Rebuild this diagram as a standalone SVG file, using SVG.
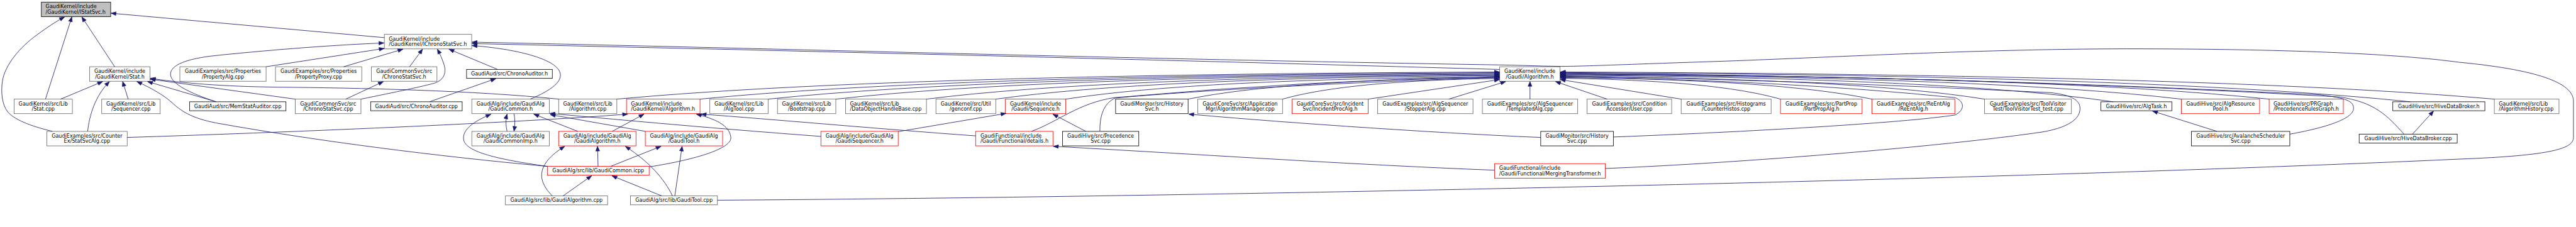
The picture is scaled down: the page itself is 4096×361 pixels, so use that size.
<svg xmlns="http://www.w3.org/2000/svg" width="4096" height="361" viewBox="0 0 4096 361">
<style>
.n rect{fill:#fff;stroke:#666;stroke-width:1.33}
.n.k rect{stroke:#000}
.n.r rect{stroke:#f00}
.n.root rect{fill:#bfbfbf;stroke:#000}
.n text{font-family:"DejaVu Sans","Liberation Sans",sans-serif;font-size:12.83px;fill:#000;text-anchor:middle}
.n.l text{text-anchor:start}
#edges path{fill:none;stroke:#191970;stroke-width:1.4;marker-end:url(#ah)}
</style>
<defs>
<marker id="ah" markerUnits="userSpaceOnUse" orient="auto" markerWidth="16" markerHeight="12" viewBox="-14 -6 16 12" refX="0" refY="0"><path d="M0,0 L-13,-5 L-13,5 Z" fill="#191970" stroke="#191970" stroke-width="1"/></marker>
</defs>
<rect width="4096" height="361" fill="#fff"/>
<g transform="scale(0.630542)">
<g id="n-IStatSvc" class="n root l"><rect x="104.3" y="5.34" width="174.8" height="36.67"/><text x="115.2" y="21.34">GaudiKernel/include</text><text x="115.2" y="34.54">/GaudiKernel/IStatSvc.h</text></g>
<g id="n-IChronoStatSvc" class="n l"><rect x="969.3" y="86.66" width="220.2" height="36.67"/><text x="980.4" y="102.66">GaudiKernel/include</text><text x="980.4" y="115.86">/GaudiKernel/IChronoStatSvc.h</text></g>
<g id="n-Stat_h" class="n"><rect x="225.9" y="168.3" width="152.3" height="36.67"/><text x="302.05" y="184.3">GaudiKernel/include</text><text x="302.05" y="197.5">/GaudiKernel/Stat.h</text></g>
<g id="n-PropertyAlg" class="n"><rect x="453.6" y="168.3" width="217.4" height="36.67"/><text x="562.3" y="184.3">GaudiExamples/src/Properties</text><text x="562.3" y="197.5">/PropertyAlg.cpp</text></g>
<g id="n-PropertyProxy" class="n"><rect x="694.7" y="168.3" width="217.6" height="36.67"/><text x="803.5" y="184.3">GaudiExamples/src/Properties</text><text x="803.5" y="197.5">/PropertyProxy.cpp</text></g>
<g id="n-ChronoStatSvc_h" class="n"><rect x="936.6" y="168.3" width="165.3" height="36.67"/><text x="1019.25" y="184.3">GaudiCommonSvc/src</text><text x="1019.25" y="197.5">/ChronoStatSvc.h</text></g>
<g id="n-ChronoAuditor_h" class="n k"><rect x="1176.6" y="175" width="216.2" height="22.6"/><text x="1284.7" y="190.5">GaudiAud/src/ChronoAuditor.h</text></g>
<g id="n-GaudiAlgorithm_h2" class="n"><rect x="3781.5" y="168.3" width="152.5" height="36.67"/><text x="3857.75" y="184.3">GaudiKernel/include</text><text x="3857.75" y="197.5">/Gaudi/Algorithm.h</text></g>
<g id="n-Stat_cpp" class="n"><rect x="35.5" y="250" width="147" height="36.67"/><text x="109" y="266">GaudiKernel/src/Lib</text><text x="109" y="279.2">/Stat.cpp</text></g>
<g id="n-Sequencer_cpp" class="n"><rect x="256.5" y="250" width="147.4" height="36.67"/><text x="330.2" y="266">GaudiKernel/src/Lib</text><text x="330.2" y="279.2">/Sequencer.cpp</text></g>
<g id="n-MemStatAuditor" class="n k"><rect x="478.3" y="256.7" width="242.8" height="22.6"/><text x="599.7" y="272.2">GaudiAud/src/MemStatAuditor.cpp</text></g>
<g id="n-ChronoStatSvc_cpp" class="n"><rect x="744.7" y="250" width="165.5" height="36.67"/><text x="827.45" y="266">GaudiCommonSvc/src</text><text x="827.45" y="279.2">/ChronoStatSvc.cpp</text></g>
<g id="n-ChronoAuditor_cpp" class="n k"><rect x="934.9" y="256.7" width="230.6" height="22.6"/><text x="1050.2" y="272.2">GaudiAud/src/ChronoAuditor.cpp</text></g>
<g id="n-GaudiCommon_h" class="n"><rect x="1189.8" y="250" width="195.4" height="36.67"/><text x="1287.5" y="266">GaudiAlg/include/GaudiAlg</text><text x="1287.5" y="279.2">/GaudiCommon.h</text></g>
<g id="n-Algorithm_cpp" class="n"><rect x="1408.8" y="250" width="146.7" height="36.67"/><text x="1482.15" y="266">GaudiKernel/src/Lib</text><text x="1482.15" y="279.2">/Algorithm.cpp</text></g>
<g id="n-GKAlgorithm_h" class="n r l"><rect x="1579.8" y="250" width="185.5" height="36.67"/><text x="1591.3" y="266">GaudiKernel/include</text><text x="1591.3" y="279.2">/GaudiKernel/Algorithm.h</text></g>
<g id="n-AlgTool_cpp" class="n"><rect x="1790" y="250" width="147" height="36.67"/><text x="1863.5" y="266">GaudiKernel/src/Lib</text><text x="1863.5" y="279.2">/AlgTool.cpp</text></g>
<g id="n-Bootstrap_cpp" class="n"><rect x="1960.6" y="250" width="147.1" height="36.67"/><text x="2034.15" y="266">GaudiKernel/src/Lib</text><text x="2034.15" y="279.2">/Bootstrap.cpp</text></g>
<g id="n-DataObjectHandleBase" class="n l"><rect x="2132.3" y="250" width="203.9" height="36.67"/><text x="2143.5" y="266">GaudiKernel/src/Lib</text><text x="2143.5" y="279.2">/DataObjectHandleBase.cpp</text></g>
<g id="n-genconf" class="n"><rect x="2360.2" y="250" width="150.9" height="36.67"/><text x="2435.65" y="266">GaudiKernel/src/Util</text><text x="2435.65" y="279.2">/genconf.cpp</text></g>
<g id="n-Sequence_h" class="n r"><rect x="2535.4" y="250" width="152.2" height="36.67"/><text x="2611.5" y="266">GaudiKernel/include</text><text x="2611.5" y="279.2">/Gaudi/Sequence.h</text></g>
<g id="n-HistorySvc_h" class="n k"><rect x="2813.3" y="250" width="182.8" height="36.67"/><text x="2904.7" y="266">GaudiMonitor/src/History</text><text x="2904.7" y="279.2">Svc.h</text></g>
<g id="n-AlgorithmManager" class="n"><rect x="3020.5" y="250" width="213.7" height="36.67"/><text x="3127.35" y="266">GaudiCoreSvc/src/Application</text><text x="3127.35" y="279.2">Mgr/AlgorithmManager.cpp</text></g>
<g id="n-IncidentProcAlg" class="n r"><rect x="3258.1" y="250" width="192.2" height="36.67"/><text x="3354.2" y="266">GaudiCoreSvc/src/Incident</text><text x="3354.2" y="279.2">Svc/IncidentProcAlg.h</text></g>
<g id="n-StopperAlg" class="n"><rect x="3473.9" y="250" width="240.6" height="36.67"/><text x="3594.2" y="266">GaudiExamples/src/AlgSequencer</text><text x="3594.2" y="279.2">/StopperAlg.cpp</text></g>
<g id="n-TemplatedAlg" class="n"><rect x="3738.1" y="250" width="240.4" height="36.67"/><text x="3858.3" y="266">GaudiExamples/src/AlgSequencer</text><text x="3858.3" y="279.2">/TemplatedAlg.cpp</text></g>
<g id="n-User" class="n"><rect x="4002.1" y="250" width="213.4" height="36.67"/><text x="4108.8" y="266">GaudiExamples/src/Condition</text><text x="4108.8" y="279.2">Accessor/User.cpp</text></g>
<g id="n-CounterHistos" class="n"><rect x="4239.5" y="250" width="226.8" height="36.67"/><text x="4352.9" y="266">GaudiExamples/src/Histograms</text><text x="4352.9" y="279.2">/CounterHistos.cpp</text></g>
<g id="n-PartPropAlg" class="n r"><rect x="4490" y="250" width="205.7" height="36.67"/><text x="4592.85" y="266">GaudiExamples/src/PartProp</text><text x="4592.85" y="279.2">/PartPropAlg.h</text></g>
<g id="n-ReEntAlg" class="n r"><rect x="4720.4" y="250" width="209.1" height="36.67"/><text x="4824.95" y="266">GaudiExamples/src/ReEntAlg</text><text x="4824.95" y="279.2">/ReEntAlg.h</text></g>
<g id="n-ToolVisitorTest" class="n"><rect x="5004.6" y="250" width="219" height="36.67"/><text x="5114.1" y="266">GaudiExamples/src/ToolVisitor</text><text x="5114.1" y="279.2">Test/ToolVisitorTest_test.cpp</text></g>
<g id="n-AlgTask" class="n k"><rect x="5298" y="256.7" width="178.8" height="22.6"/><text x="5387.4" y="272.2">GaudiHive/src/AlgTask.h</text></g>
<g id="n-AlgResourcePool" class="n r"><rect x="5500.8" y="250" width="197.4" height="36.67"/><text x="5599.5" y="266">GaudiHive/src/AlgResource</text><text x="5599.5" y="279.2">Pool.h</text></g>
<g id="n-PRGraph" class="n r l"><rect x="5722.2" y="250" width="187" height="36.67"/><text x="5733.3" y="266">GaudiHive/src/PRGraph</text><text x="5733.3" y="279.2">/PrecedenceRulesGraph.h</text></g>
<g id="n-HiveDataBroker_h" class="n k"><rect x="6034" y="256.7" width="232.2" height="22.6"/><text x="6150.1" y="272.2">GaudiHive/src/HiveDataBroker.h</text></g>
<g id="n-AlgorithmHistory" class="n l"><rect x="6290" y="250" width="163.1" height="36.67"/><text x="6301.3" y="266">GaudiKernel/src/Lib</text><text x="6301.3" y="279.2">/AlgorithmHistory.cpp</text></g>
<g id="n-StatSvcAlg" class="n"><rect x="118.2" y="331.3" width="202.6" height="36.67"/><text x="219.5" y="347.3">GaudiExamples/src/Counter</text><text x="219.5" y="360.5">Ex/StatSvcAlg.cpp</text></g>
<g id="n-GaudiCommonImp" class="n"><rect x="1189.8" y="331.3" width="195.4" height="36.67"/><text x="1287.5" y="347.3">GaudiAlg/include/GaudiAlg</text><text x="1287.5" y="360.5">/GaudiCommonImp.h</text></g>
<g id="n-GaudiAlgorithm_h" class="n r"><rect x="1408.8" y="331.3" width="195" height="36.67"/><text x="1506.3" y="347.3">GaudiAlg/include/GaudiAlg</text><text x="1506.3" y="360.5">/GaudiAlgorithm.h</text></g>
<g id="n-GaudiTool_h" class="n r"><rect x="1627.3" y="331.3" width="195" height="36.67"/><text x="1724.8" y="347.3">GaudiAlg/include/GaudiAlg</text><text x="1724.8" y="360.5">/GaudiTool.h</text></g>
<g id="n-GaudiSequencer_h" class="n r"><rect x="2070.1" y="331.3" width="194.9" height="36.67"/><text x="2167.55" y="347.3">GaudiAlg/include/GaudiAlg</text><text x="2167.55" y="360.5">/GaudiSequencer.h</text></g>
<g id="n-details_h" class="n r l"><rect x="2460.3" y="331.3" width="195" height="36.67"/><text x="2472.5" y="347.3">GaudiFunctional/include</text><text x="2472.5" y="360.5">/Gaudi/Functional/details.h</text></g>
<g id="n-PrecedenceSvc" class="n k"><rect x="2679.3" y="331.3" width="192.4" height="36.67"/><text x="2775.5" y="347.3">GaudiHive/src/Precedence</text><text x="2775.5" y="360.5">Svc.cpp</text></g>
<g id="n-HistorySvc_cpp" class="n k"><rect x="3885.3" y="331.3" width="183.2" height="36.67"/><text x="3976.9" y="347.3">GaudiMonitor/src/History</text><text x="3976.9" y="360.5">Svc.cpp</text></g>
<g id="n-AvalancheSchedulerSvc" class="n k"><rect x="5526.2" y="331.3" width="248.1" height="36.67"/><text x="5650.25" y="347.3">GaudiHive/src/AvalancheScheduler</text><text x="5650.25" y="360.5">Svc.cpp</text></g>
<g id="n-HiveDataBroker_cpp" class="n k"><rect x="5949.2" y="338.3" width="247.2" height="22.6"/><text x="6072.8" y="353.8">GaudiHive/src/HiveDataBroker.cpp</text></g>
<g id="n-GaudiCommon_icpp" class="n r"><rect x="1380.3" y="419.3" width="256.7" height="22.6"/><text x="1508.65" y="434.8">GaudiAlg/src/lib/GaudiCommon.icpp</text></g>
<g id="n-MergingTransformer" class="n r l"><rect x="3769" y="412.7" width="279.3" height="36.67"/><text x="3780.7" y="428.7">GaudiFunctional/include</text><text x="3780.7" y="441.9">/Gaudi/Functional/MergingTransformer.h</text></g>
<g id="n-GaudiAlgorithm_cpp" class="n"><rect x="1274.6" y="494" width="257.6" height="22.6"/><text x="1403.4" y="509.5">GaudiAlg/src/lib/GaudiAlgorithm.cpp</text></g>
<g id="n-GaudiTool_cpp" class="n"><rect x="1589.9" y="494" width="219.2" height="22.6"/><text x="1699.5" y="509.5">GaudiAlg/src/lib/GaudiTool.cpp</text></g>
<g id="edges" transform="scale(1,0.91217)">
<path d="M289.2,184.5 L206.5,47"/>
<path d="M114.7,274.1 L181.1,47"/>
<path d="M132.1,363.2 C90,352 40,335 20,310 C5,290 2,255 6,225 C12,180 50,130 95,95 C120,75 140,60 162.7,47"/>
<path d="M969.3,104.1 L279.6,36.5"/>
<path d="M152.9,274.1 L258.9,225.5"/>
<path d="M221.1,363.2 C225,320 240,265 276,225.5"/>
<path d="M323.3,274.1 L309.4,225.5"/>
<path d="M1380.3,460 C1100,432 800,390 545,340 C480,326 455,305 435,285 C415,265 385,245 345,225.5"/>
<path d="M545,281.4 L372,225.5"/>
<path d="M744.7,274.1 L379,219"/>
<path d="M1408.8,274.1 C1200,250 900,243 700,241 C560,239 460,230 379,216.5"/>
<path d="M545,281.4 C480,258 430,232 430,205 C430,180 470,162 545,153.5 C700,136 850,124 968.5,118.8"/>
<path d="M671,184.5 L969,134"/>
<path d="M866.7,184.5 L1016.2,136"/>
<path d="M1032.9,184.5 L1065.5,136"/>
<path d="M872,274.1 L966.8,225.5"/>
<path d="M910.2,274.1 C1000,254 1070,238 1095,230 C1120,222 1126,200 1120,180 C1116,165 1110,150 1103,136"/>
<path d="M1083,281.4 L1250.3,217.5"/>
<path d="M1254.8,191.9 L1132.1,136"/>
<path d="M1337.2,274.1 C1390,250 1420,225 1412,200 C1400,162 1300,135 1190.3,126"/>
<path d="M3781.5,192 Q2500,152 1190.3,120.5"/>
<path d="M1809.1,553.6 C3000,545 5000,500 6200,440 C6440,430 6489.6,410 6489.6,380 L6489.6,280 C6489.6,235 6420,195 6200,172 C6050,150 5800,136 5400,135 C5000,134 4600,160 4325,170 C4100,178 3980,184 3933,183.5 C3880,183 3830,180 3780,179.5 C2800,162 2000,135 1190.3,116.5"/>
<path d="M1555.5,274.1 Q2223.5,206.5 3781.5,199"/>
<path d="M1765.3,274.1 Q2370.2,208.3 3781.5,201"/>
<path d="M1937,274.1 Q2490.4,210.1 3781.5,203"/>
<path d="M2107.7,274.1 Q2609.8,211.9 3781.5,205"/>
<path d="M2336.2,274.1 Q2769.8,213.7 3781.5,207"/>
<path d="M2511.1,274.1 Q2892.2,215.5 3781.5,209"/>
<path d="M2601.4,363.2 C2670,335 2720,285 2810,270 Q3300,222 3781.5,211"/>
<path d="M2687.6,274.1 Q3015.8,218.2 3781.5,212.5"/>
<path d="M2773.7,363.2 C2773,322 2782,287 2812,271 Q3150,238 3781.5,213.5"/>
<path d="M2996.1,274.1 Q3231.7,220.9 3781.5,215"/>
<path d="M3234.2,274.1 Q3398.4,222.7 3781.5,217"/>
<path d="M3450.3,274.1 L3781.5,220"/>
<path d="M3653.6,274.1 L3797,225.5"/>
<path d="M3858.2,274.1 L3858.2,225.5"/>
<path d="M4052.9,274.1 L3922.5,225.5"/>
<path d="M4239.5,274.1 L3934.5,220"/>
<path d="M4490,274.1 Q4323.2,221.8 3934.5,216.5"/>
<path d="M4720.4,274.1 Q4484.5,220 3934.5,214.5"/>
<path d="M4068.5,378.8 C4400,365 4800,340 4930,318 C4955,305 4955,280 4930,270 Q4500,222 3934.5,212.5"/>
<path d="M5004.6,274.1 Q4683.4,217.3 3934.5,211"/>
<path d="M4048.3,465.9 C4400,450 4900,405 5150,365 C5230,350 5248,320 5245,295 C5242,275 5220,262 5170,256 Q4550,222 3934.5,209.5"/>
<path d="M5329.2,281.4 Q4910.6,215.3 3934.5,208"/>
<path d="M5500.8,274.1 Q5030.8,213.3 3934.5,206.5"/>
<path d="M5722.2,274.1 Q5185.7,211.9 3934.5,205"/>
<path d="M5774.3,370.9 C5880,350 5935,325 5935,300 C5935,280 5920,272 5850,262 Q4900,210 3934.5,203.5"/>
<path d="M6062.3,370.9 C6020,320 5990,283 5900,268 Q5000,212 3934.5,202"/>
<path d="M6078.3,281.4 Q5435,208.6 3934.5,200.5"/>
<path d="M6290,274.1 Q5583.2,206.5 3934.5,199"/>
<path d="M3885.3,380 C3700,372 3300,345 2997.5,315.5"/>
<path d="M2738.2,363.2 L2655,315.5"/>
<path d="M2265,364 L2537,313.5"/>
<path d="M2070.1,377.2 C1800,355 1600,335 1386.5,313.5"/>
<path d="M1627.3,363.2 L1387.5,317"/>
<path d="M1457.1,363.2 L1346,315.5"/>
<path d="M1278.8,363.2 C1275,345 1275,330 1278.8,315.5"/>
<path d="M1296.2,314.3 C1299,330 1299,345 1296.2,362.5"/>
<path d="M1380.3,460 C1250,440 1180,420 1170,390 C1162,360 1195,335 1238,316"/>
<path d="M1544,363.2 L1624,315.5"/>
<path d="M320.8,380 C700,367 1300,340 1583,315.5"/>
<path d="M1508.2,459.7 L1506.8,404.5"/>
<path d="M1637,461.5 C1760,440 1845,410 1843,380 C1840,345 1800,328 1756,315.5"/>
<path d="M1540.6,459.7 L1667,404.5"/>
<path d="M1695.8,541.6 C1675,495 1640,450 1577,404.5"/>
<path d="M1668.7,541.6 L1543,486"/>
<path d="M1701.7,541.6 L1720.1,404.5"/>
<path d="M1419.9,541.6 L1491.9,486"/>
<path d="M1392.8,541.6 C1355,500 1350,455 1424,404.5"/>
<path d="M3769,470.6 C3400,455 3000,425 2656,404.5"/>
<path d="M2460.3,375.7 C2200,355 1950,330 1768,315.5"/>
<path d="M5590.5,363.2 L5428,307"/>
<path d="M6083.6,370.9 L6136.8,307"/>
</g>
</g>
</svg>
